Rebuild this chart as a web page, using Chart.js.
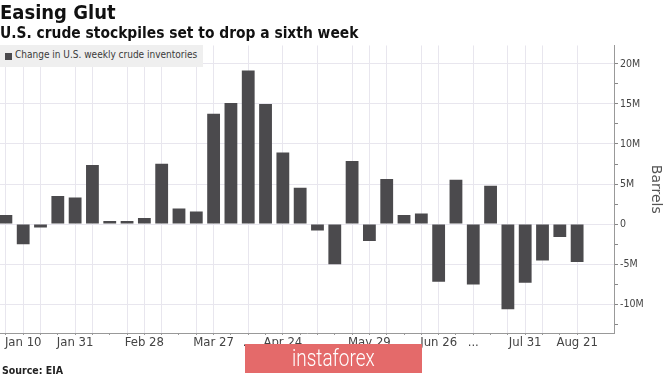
<!DOCTYPE html>
<html>
<head>
<meta charset="utf-8">
<script src="https://cdn.jsdelivr.net/npm/chart.js@4"></script>
<style>
  body { margin: 0; background: #fff; }
  #wrap { position: relative; width: 665px; height: 375px; overflow: hidden; }
  .cond { font-family: 'DejaVu Sans Condensed', 'DejaVu Sans', sans-serif; }
  #legend { position: absolute; left: 0; top: 45px; width: 203px; height: 22px; background: #efefef; font-size: 10px; color: #3a3a3a; }
  #legend span.box { position: absolute; left: 5px; top: 8px; width: 7px; height: 7px; background: #4b4a4d; }
  #legend span.txt { position: absolute; left: 15px; top: 4px; }
  #source { position: absolute; left: 2px; top: 364px; font-size: 10.5px; font-weight: bold; color: #222; }
  #mark { position: absolute; left: 245px; top: 344px; width: 177px; height: 29px; background: #e46a6a; color: #fff;
          font-family: Roboto, sans-serif; font-weight: 300; font-size: 24px; text-align: center; line-height: 29px; }
  #mark span { display: inline-block; transform: scaleX(0.79); }
</style>
</head>
<body>
<div id="wrap">
  <canvas id="bar-chart" width="665" height="375"></canvas>
  <div id="legend" class="cond"><span class="box"></span><span class="txt">Change in U.S. weekly crude inventories</span></div>
  <div id="source" class="cond">Source: EIA</div>
  <div id="mark"><span>instaforex</span></div>
</div>
<script>
// weeks ending (2020)
const weeks = ['Jan 3', 'Jan 10', 'Jan 17', 'Jan 24', 'Jan 31', 'Feb 7', 'Feb 14', 'Feb 21', 'Feb 28',
  'Mar 6', 'Mar 13', 'Mar 20', 'Mar 27', 'Apr 3', 'Apr 10', 'Apr 17', 'Apr 24', 'May 1', 'May 8',
  'May 15', 'May 22', 'May 29', 'Jun 5', 'Jun 12', 'Jun 19', 'Jun 26', 'Jul 3', 'Jul 10', 'Jul 17',
  'Jul 24', 'Jul 31', 'Aug 7', 'Aug 14', 'Aug 21']

// change in crude inventories, million barrels
const inventoryChange = [1.12, -2.53, -0.42, 3.52, 3.31, 7.37, 0.37, 0.37, 0.75,
  7.54, 1.95, 1.57, 13.79, 15.11, 19.17, 14.99, 8.94, 4.55, -0.79,
  -5.01, 7.87, -2.11, 5.63, 1.12, 1.33, -7.2, 5.55, -7.54, 4.8,
  -10.64, -7.33, -4.55, -1.61, -4.72]

// labels shown under the x axis
const xTickLabels = ['', 'Jan 10', '', '', 'Jan 31', '', '', '', 'Feb 28',
  '', '', '', 'Mar 27', '', '...', '', 'Apr 24', '', '...',
  '', '', 'May 29', '', '', '', 'Jun 26', '', '...', '',
  '', 'Jul 31', '', '', 'Aug 21']

// weeks that carry a vertical grid line
const gridWeeks = ['Jan 3', 'Jan 10', 'Jan 17', 'Jan 31', 'Feb 7', 'Feb 21', 'Feb 28', 'Mar 6',
  'Mar 20', 'Mar 27', 'Apr 10', 'Apr 24', 'May 8', 'May 22', 'May 29', 'Jun 5', 'Jun 19',
  'Jun 26', 'Jul 10', 'Jul 24', 'Jul 31', 'Aug 7', 'Aug 21']

const yTicks = [-10, -5, 0, 5, 10, 15, 20]

const fam = "'DejaVu Sans Condensed', 'DejaVu Sans', sans-serif"
const gridColor = '#e8e6ee'

const chartCanvas = document.querySelector('#bar-chart')

const barChart = new Chart(chartCanvas, {
  type: 'bar',
  data: {
    datasets: [{
      label: 'Change in U.S. weekly crude inventories',
      data: weeks.map((w, i) => ({ x: i, y: inventoryChange[i] })),
      backgroundColor: '#4b4a4d',
      borderWidth: 0,
      barPercentage: 0.74,
      categoryPercentage: 1
    }]
  },
  options: {
    responsive: false,
    animation: false,
    layout: { padding: 0 },
    plugins: {
      legend: { display: false },
      tooltip: { enabled: false },
      title: {
        display: true,
        text: 'Easing Glut',
        align: 'start',
        color: '#111',
        font: { family: fam, size: 20, weight: 'bold', lineHeight: 1.1 },
        padding: { top: 3, bottom: 0 }
      },
      subtitle: {
        display: true,
        text: 'U.S. crude stockpiles set to drop a sixth week',
        align: 'start',
        color: '#111',
        font: { family: fam, size: 15.4, weight: 'bold', lineHeight: 1.2 },
        padding: { top: 0, bottom: 2 }
      }
    },
    scales: {
      x: {
        type: 'linear',
        offset: false,
        min: -0.34,
        max: 35.13,
        afterBuildTicks: (scale) => { scale.ticks = weeks.map((w, i) => ({ value: i })) },
        afterFit: (scale) => { scale.height = 42 },
        ticks: {
          autoSkip: false,
          maxRotation: 0,
          padding: 0,
          color: '#444',
          font: { family: fam, size: 13 },
          callback: (value, index) => xTickLabels[index]
        },
        grid: {
          offset: false,
          color: (ctx) => gridWeeks.includes(weeks[ctx.index]) ? gridColor : 'rgba(0,0,0,0)',
          tickColor: '#999',
          tickLength: 2
        },
        border: { color: '#999' }
      },
      y: {
        position: 'right',
        min: -13.6,
        max: 22.3,
        afterFit: (scale) => { scale.width = 51 },
        ticks: {
          stepSize: 2.5,
          includeBounds: false,
          padding: 2,
          color: '#444',
          font: { family: fam, size: 10.5 },
          callback: (value) => yTicks.includes(value) ? (value === 0 ? '0' : value + 'M') : ''
        },
        grid: {
          color: (ctx) => yTicks.includes(ctx.tick.value) ? gridColor : 'rgba(0,0,0,0)',
          tickColor: '#888',
          tickLength: 4
        },
        border: { color: '#999' },
        title: {
          display: true,
          text: 'Barrels',
          color: '#555',
          font: { family: "'DejaVu Sans', sans-serif", size: 14 },
          padding: { top: 1, bottom: 0 }
        }
      }
    }
  }
})
</script>
</body>
</html>
